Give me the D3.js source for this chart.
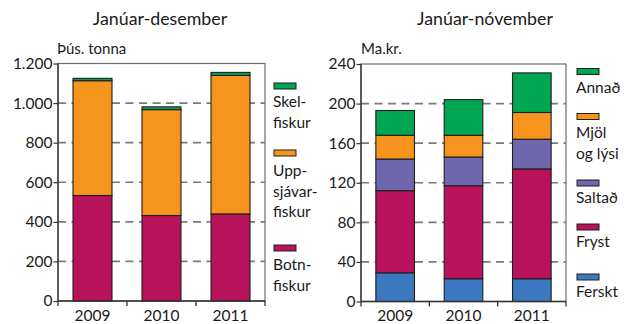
<!DOCTYPE html>
<html>
<head>
<meta charset="utf-8">
<script src="https://cdn.jsdelivr.net/npm/d3@7"></script>
<style>
  html, body { margin: 0; padding: 0; background: #fff; }
  svg { display: block; }
  text { font-family: "Lato", "Open Sans", sans-serif; fill: #1a1a1a; }
</style>
</head>
<body>
<svg id="chart" width="630" height="324"></svg>
<script>
// Years shown on both panels
const years = ["2009", "2010", "2011"];

// Left panel: catch, thousand tonnes (January–December)
const catchSeries = ["Botnfiskur", "Uppsjávarfiskur", "Skelfiskur"];
const botnfiskur = [533, 432, 440];
const uppsjavarfiskur = [580, 535, 700];
const skelfiskur = [12, 14, 15];
const catchTicks = [0, 200, 400, 600, 800, 1000, 1200];
const catchTickLabels = ["0", "200", "400", "600", "800", "1.000", "1.200"];

// Right panel: export value, billion ISK (January–November)
const exportSeries = ["Ferskt", "Fryst", "Saltað", "Mjöl og lýsi", "Annað"];
const ferskt = [29, 23, 23];
const fryst = [83, 94, 111];
const saltad = [32, 29, 30];
const mjol = [24, 22, 27];
const annad = [25, 36, 40];
const exportTicks = [0, 40, 80, 120, 160, 200, 240];
const exportTickLabels = ["0", "40", "80", "120", "160", "200", "240"];

const colors = {
  green: "#00a651",
  orange: "#f7941d",
  magenta: "#b8125a",
  purple: "#6e67ae",
  blue: "#3c78bf"
};

const svg = d3.select("#chart");

function drawPanel(opt) {
  const g = svg.append("g");
  const x = d3.scaleBand().domain(years).range([opt.x0, opt.x1]).paddingInner(0.435).paddingOuter(0.2175);
  const y = d3.scaleLinear().domain([0, opt.max]).range([opt.yBottom, opt.yTop]);

  // title and unit
  g.append("text").attr("x", opt.titleX).attr("y", 25).attr("text-anchor", "middle")
    .style("font-size", "17.8px").text(opt.title);
  g.append("text").attr("x", opt.unitX).attr("y", 53.5)
    .style("font-size", "15px").text(opt.unit);

  // frame
  g.append("rect").attr("x", opt.x0).attr("y", opt.yTop)
    .attr("width", opt.x1 - opt.x0).attr("height", opt.yBottom - opt.yTop)
    .attr("fill", "none").attr("stroke", "#6d6d6d").attr("stroke-width", 1.2);

  // dashed gridlines
  g.selectAll(".grid").data(opt.ticks.filter(t => t > 0 && t < opt.max)).join("line")
    .attr("x1", opt.x0).attr("x2", opt.x1)
    .attr("y1", d => y(d)).attr("y2", d => y(d))
    .attr("stroke", "#7a7a7a").attr("stroke-width", 1.6)
    .attr("stroke-dasharray", "8,5.5");

  // stacked bars
  const rows = years.map((yr, i) => {
    const r = { year: yr };
    opt.series.forEach(s => { r[s.key] = s.values[i]; });
    return r;
  });
  const stack = d3.stack().keys(opt.series.map(s => s.key))(rows);
  stack.forEach((layer, li) => {
    g.selectAll(null).data(layer).join("rect")
      .attr("x", d => x(d.data.year))
      .attr("width", x.bandwidth())
      .attr("y", d => y(d[1]))
      .attr("height", d => y(d[0]) - y(d[1]))
      .attr("fill", opt.series[li].color)
      .attr("stroke", "#1e1e1e").attr("stroke-width", 1.1);
  });

  // y axis
  const yAxis = d3.axisLeft(y).tickValues(opt.ticks)
    .tickFormat((d, i) => opt.tickLabels[i]).tickSize(4.5).tickPadding(1);
  const ya = g.append("g").attr("transform", `translate(${opt.x0},0)`).call(yAxis);
  ya.select(".domain").remove();
  ya.selectAll(".tick line").attr("stroke", "#333").attr("stroke-width", 1.2);
  ya.selectAll(".tick text").style("font-size", "15.5px")
    .style("font-family", "Lato, 'Open Sans', sans-serif").attr("fill", "#1a1a1a");
  g.append("line").attr("x1", opt.x0).attr("x2", opt.x0)
    .attr("y1", opt.yTop).attr("y2", opt.yBottom + 5)
    .attr("stroke", "#333").attr("stroke-width", 1.3);

  // x axis: category labels with dividers between bands
  g.append("line").attr("x1", opt.x0).attr("x2", opt.x1)
    .attr("y1", opt.yBottom).attr("y2", opt.yBottom)
    .attr("stroke", "#333").attr("stroke-width", 1.3);
  const dividers = years.map((yr, i) => opt.x0 + (i + 1) * (opt.x1 - opt.x0) / years.length);
  g.selectAll(".div").data(dividers).join("line")
    .attr("x1", d => d).attr("x2", d => d)
    .attr("y1", opt.yBottom).attr("y2", opt.yBottom + 5)
    .attr("stroke", "#333").attr("stroke-width", 1.3);
  g.selectAll(".yr").data(years).join("text")
    .attr("x", d => x(d) + x.bandwidth() / 2).attr("y", opt.yBottom + 19.5)
    .attr("text-anchor", "middle").style("font-size", "15.5px").text(d => d);

  // legend
  opt.legend.forEach(item => {
    g.append("rect").attr("x", opt.legX).attr("y", item.sy)
      .attr("width", 22).attr("height", 6)
      .attr("fill", item.color).attr("stroke", "#1e1e1e").attr("stroke-width", 1);
    item.lines.forEach((ln, k) => {
      g.append("text").attr("x", opt.legX - 1).attr("y", item.ty + k * 20.5)
        .style("font-size", "15.5px").text(ln);
    });
  });
}

drawPanel({
  title: "Janúar-desember", titleX: 160, unit: "Þús. tonna", unitX: 57,
  x0: 58, x1: 265, yTop: 63.5, yBottom: 301, max: 1200,
  ticks: catchTicks, tickLabels: catchTickLabels,
  series: [
    { key: catchSeries[0], values: botnfiskur, color: colors.magenta },
    { key: catchSeries[1], values: uppsjavarfiskur, color: colors.orange },
    { key: catchSeries[2], values: skelfiskur, color: colors.green }
  ],
  legX: 274,
  legend: [
    { color: colors.green, sy: 83, ty: 107, lines: ["Skel-", "fiskur"] },
    { color: colors.orange, sy: 150, ty: 176, lines: ["Upp-", "sjávar-", "fiskur"] },
    { color: colors.magenta, sy: 245, ty: 270, lines: ["Botn-", "fiskur"] }
  ]
});

drawPanel({
  title: "Janúar-nóvember", titleX: 485, unit: "Ma.kr.", unitX: 361,
  x0: 361, x1: 566, yTop: 64, yBottom: 301.5, max: 240,
  ticks: exportTicks, tickLabels: exportTickLabels,
  series: [
    { key: exportSeries[0], values: ferskt, color: colors.blue },
    { key: exportSeries[1], values: fryst, color: colors.magenta },
    { key: exportSeries[2], values: saltad, color: colors.purple },
    { key: exportSeries[3], values: mjol, color: colors.orange },
    { key: exportSeries[4], values: annad, color: colors.green }
  ],
  legX: 577,
  legend: [
    { color: colors.green, sy: 68.5, ty: 93, lines: ["Annað"] },
    { color: colors.orange, sy: 113.5, ty: 138, lines: ["Mjöl", "og lýsi"] },
    { color: colors.purple, sy: 180, ty: 203, lines: ["Saltað"] },
    { color: colors.magenta, sy: 224, ty: 247, lines: ["Fryst"] },
    { color: colors.blue, sy: 274, ty: 297, lines: ["Ferskt"] }
  ]
});
</script>
</body>
</html>
